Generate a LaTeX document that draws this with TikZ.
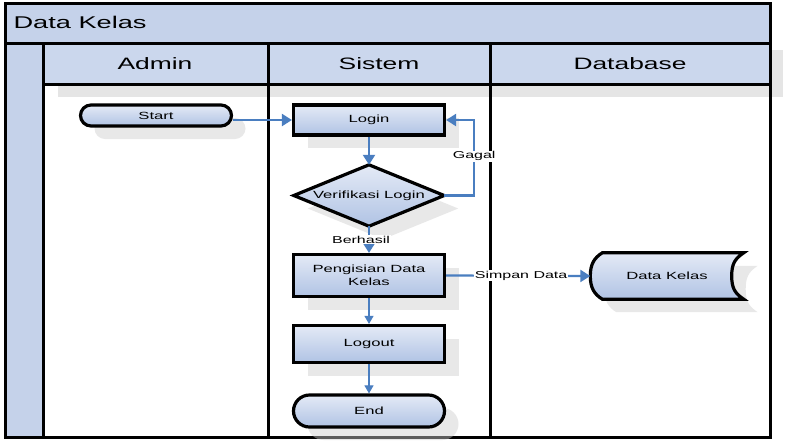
\documentclass[tikz,border=0pt]{standalone}
\usepackage{fontspec}
\setmainfont{Liberation Sans}[FakeStretch=1.6]
\usetikzlibrary{shapes.geometric,arrows.meta,shadows}
\definecolor{lanec}{RGB}{197,210,234}
\definecolor{headc}{RGB}{203,215,237}
\definecolor{topc}{RGB}{228,234,246}
\definecolor{botc}{RGB}{176,195,228}
\definecolor{conn}{RGB}{74,126,192}
\begin{document}
\begin{tikzpicture}[x=1pt,y=-1pt,
  frame/.style={draw=black,line width=3pt},
  shad/.style={drop shadow={shadow xshift=14pt,shadow yshift=-13pt,fill=gray!40,opacity=0.45}},
  fillstyle/.style={draw=black,line width=3.2pt,top color=topc,bottom color=botc,shad},
  box/.style={fillstyle,font=\fontsize{10.4}{12.5}\selectfont,align=center,inner sep=2pt},
  procbox/.style={box,rectangle,minimum width=151pt,minimum height=30pt},
  termbox/.style={box,rectangle,minimum width=151pt},
  plainbox/.style={rectangle,inner sep=0pt,font=\fontsize{10.4}{12.5}\selectfont},
  lbl/.style={fill=white,inner sep=1pt,font=\fontsize{10}{12}\selectfont},
  thick conn/.style={draw=conn,line width=2.2pt,-{Triangle[length=10pt,width=12pt]}},
  thin conn/.style={draw=conn,line width=1.1pt,-{Triangle[length=8pt,width=9pt]}},
  headtext/.style={font=\fontsize{16.5}{18}\selectfont}
]
\useasboundingbox (0,0) rectangle (800,440);
% backgrounds
\fill[white] (5,3) rectangle (770,437);
\fill[lanec] (5,3) rectangle (770,43);
\fill[lanec] (5,43) rectangle (43,437);
\fill[headc] (43,43) rectangle (770,84);
% header shadow strip
\fill[gray!20] (58,84) rectangle (783,97);
\fill[gray!20] (770,50) rectangle (783,97);
% title and header texts
\node[anchor=west,font=\fontsize{17}{20}\selectfont] (title) at (10,22) {Data Kelas};
\node[headtext] (hadmin) at (155,64) {Admin};
\node[headtext] (hsistem) at (379,64) {Sistem};
\node[headtext] (hdb) at (630,64) {Database};
% lane lines
\draw[frame] (5,43) -- (770,43);
\draw[frame] (43,84) -- (770,84);
\draw[frame] (43,43) -- (43,437);
\draw[frame] (268,43) -- (268,437);
\draw[frame] (490,43) -- (490,437);
\draw[frame] (5,3) rectangle (770,437);
% nodes
\node[termbox,minimum height=21pt,rounded corners=10.5pt] (start) at (156,115.5) {Start};
\node[procbox] (login) at (369,120) {Login};
\node[plainbox,minimum width=150pt,minimum height=61pt] (verif) at (369,195.5) {};
\path[fillstyle] (verif.north) -- (verif.east) -- (verif.south) -- (verif.west) -- cycle;
\node[plainbox] (veriftext) at (verif.center) {Verifikasi Login};
\node[procbox,minimum height=42pt] (isi) at (369,275.5) {Pengisian Data\\Kelas};
\node[procbox,minimum height=37pt] (logout) at (369,344) {Logout};
\node[termbox,minimum height=32pt,rounded corners=16pt] (end) at (369,411) {End};
% data store
\node[plainbox,minimum width=153pt,minimum height=46pt] (dk) at (667,276) {};
\path[fillstyle]
  ([xshift=12pt]dk.north west) -- (dk.north east)
  .. controls +(-9,6) and +(0,-12) .. ([xshift=-12pt]dk.east)
  .. controls +(0,12) and +(-9,-6) .. (dk.south east)
  -- ([xshift=12pt]dk.south west)
  .. controls +(-8,-5) and +(0,12) .. (dk.west)
  .. controls +(0,-12) and +(-8,5) .. cycle;
\node[plainbox] (dktext) at (dk.center) {Data Kelas};
% connectors
\draw[thick conn] (start.east |- login.west) -- (login.west);
\draw[thick conn] (login.south) -- (verif.north);
\draw[thick conn] (verif.east) -- ++(30,0) |- node[lbl,pos=0.26] {Gagal} (login.east);
\draw[thick conn] (verif.south) -- node[lbl,pos=0.5,xshift=-8pt] {Berhasil} (isi.north);
\draw[thick conn] (isi.east) -- node[lbl,pos=0.52] {Simpan Data} (dk.west);
\draw[thin conn] (isi.south) -- (logout.north);
\draw[thin conn] (logout.south) -- (end.north);
\end{tikzpicture}
\end{document}
